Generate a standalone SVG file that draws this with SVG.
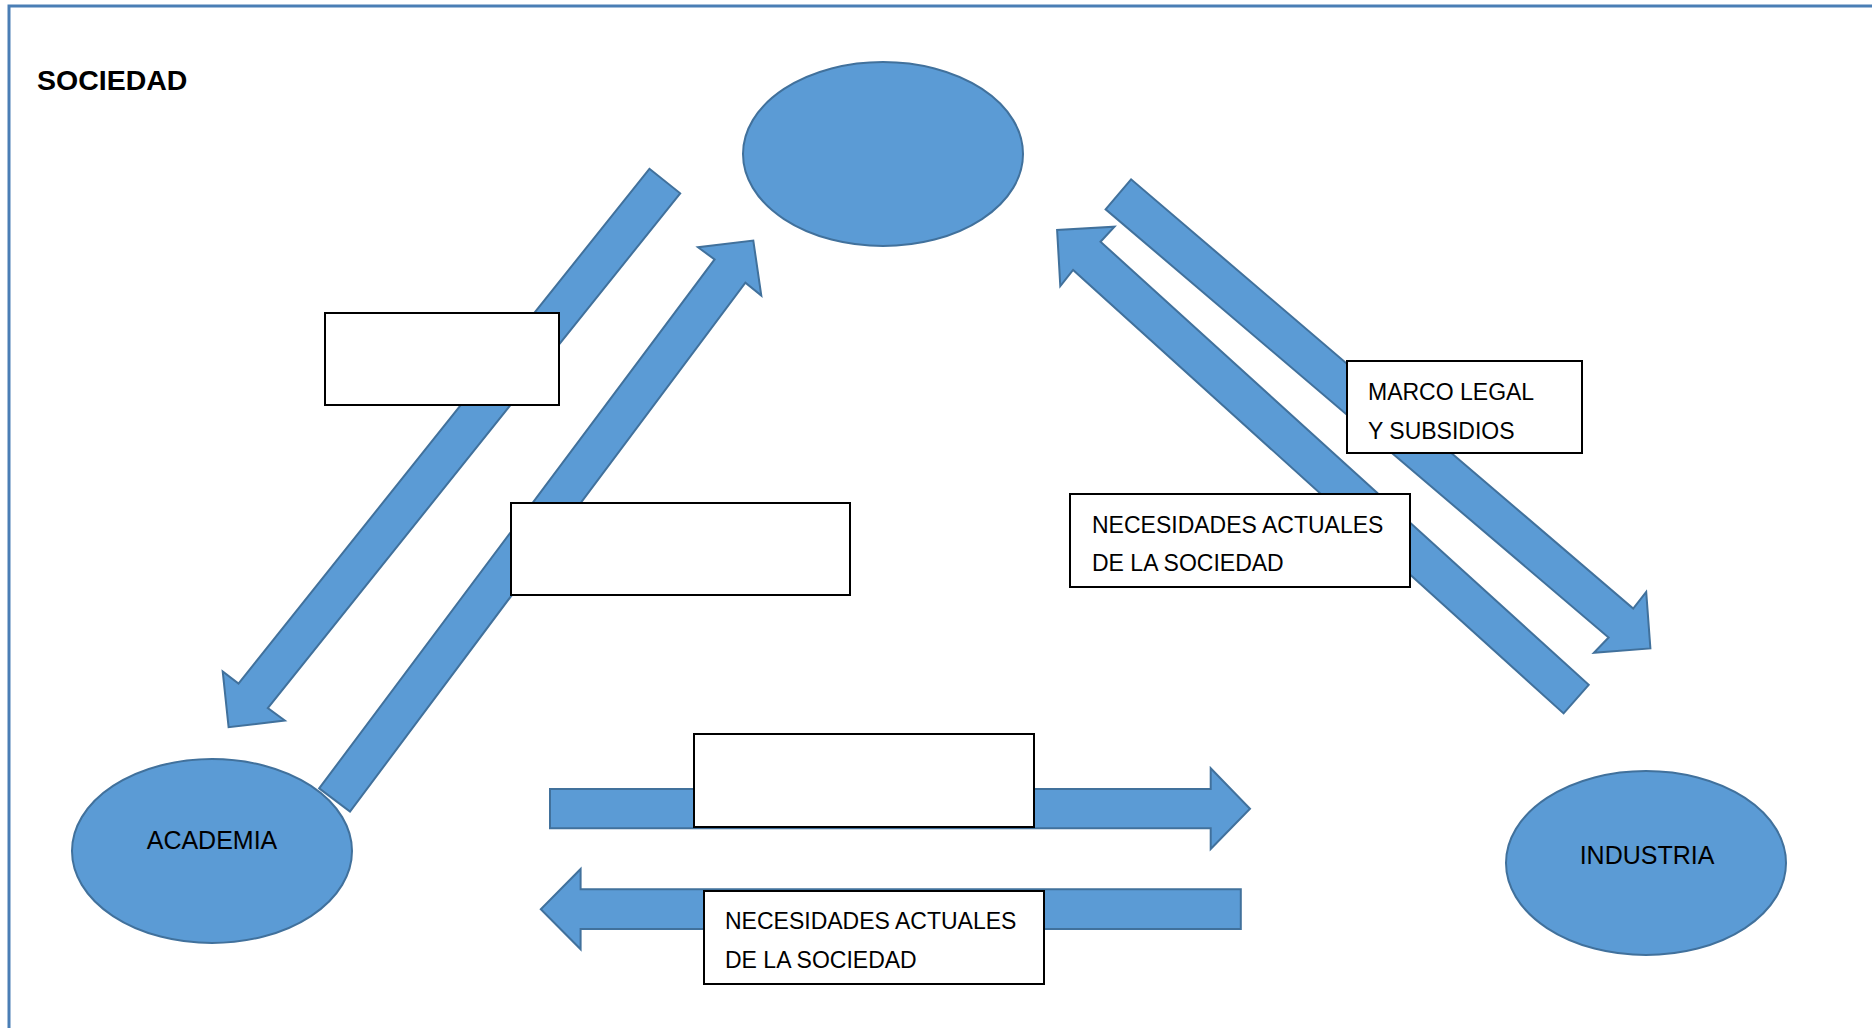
<svg xmlns="http://www.w3.org/2000/svg" width="1872" height="1028" viewBox="0 0 1872 1028">
<style>
.frame{fill:none;stroke:#4A7EB5;stroke-width:3}
.node{fill:#5B9BD5;stroke:#41719C;stroke-width:2}
.arrow{fill:#5B9BD5;stroke:#41719C;stroke-width:2;stroke-linejoin:miter}
.box{fill:#FFFFFF;stroke:#000000;stroke-width:2}
.lbl{font-family:"Liberation Sans",Arial,sans-serif;font-size:23px;fill:#000000}
.nlbl{font-family:"Liberation Sans",Arial,sans-serif;font-size:25px;fill:#000000;text-anchor:middle}
.title{font-family:"Liberation Sans",Arial,sans-serif;font-size:28.5px;font-weight:bold;fill:#000000}
</style>
<rect width="1872" height="1028" fill="#FFFFFF"/>
<rect class="frame" x="9" y="6" width="1900" height="1100"/>
<text class="title" x="37" y="90">SOCIEDAD</text>

<g id="node-sociedad">
  <ellipse class="node" cx="883" cy="154" rx="140" ry="92"/>
</g>
<g id="node-academia">
  <ellipse class="node" cx="212" cy="851" rx="140" ry="92"/>
  <text class="nlbl" x="212" y="849">ACADEMIA</text>
</g>
<g id="node-industria">
  <ellipse class="node" cx="1646" cy="863" rx="140" ry="92"/>
  <text class="nlbl" x="1647" y="864">INDUSTRIA</text>
</g>

<g id="connectors">
  <polygon class="arrow" points="649.4,168.8 680.2,193.3 267.8,708 284.8,720.5 228.6,727.2 222.7,671.4 238.5,683.5"/>
  <polygon class="arrow" points="319.2,788.4 350,811.6 745.4,282.6 761.3,295.5 753.3,240.6 698,247.3 714.6,259.4"/>
  <polygon class="arrow" points="1131.1,179.3 1105.6,209.3 1608.6,637.5 1593.9,652.7 1650.4,648.4 1646.2,592 1633.2,608.5"/>
  <polygon class="arrow" points="1588.7,684.8 1563.6,713.4 1073.1,270 1060.3,286 1057.1,230 1114.5,226.7 1100.5,241.7"/>
  <polygon class="arrow" points="550,789 1210.7,789 1210.7,768.3 1250,808.7 1210.7,849 1210.7,828.3 550,828.3"/>
  <polygon class="arrow" points="1240.8,889.3 580.6,889.3 580.6,869 540.8,909.3 580.6,949.3 580.6,929 1240.8,929"/>
</g>

<g id="box-a">
  <rect class="box" x="325" y="313" width="234" height="92"/>
</g>
<g id="box-b">
  <rect class="box" x="511" y="503" width="339" height="92"/>
</g>
<g id="box-c">
  <rect class="box" x="694" y="734" width="340" height="93"/>
</g>
<g id="box-marco">
  <rect class="box" x="1347" y="361" width="235" height="92"/>
  <text class="lbl" x="1368" y="400">MARCO LEGAL</text>
  <text class="lbl" x="1368" y="439">Y SUBSIDIOS</text>
</g>
<g id="box-necesidades-right">
  <rect class="box" x="1070" y="494" width="340" height="93"/>
  <text class="lbl" x="1092" y="533">NECESIDADES ACTUALES</text>
  <text class="lbl" x="1092" y="571">DE LA SOCIEDAD</text>
</g>
<g id="box-necesidades-bottom">
  <rect class="box" x="704" y="891" width="340" height="93"/>
  <text class="lbl" x="725" y="929">NECESIDADES ACTUALES</text>
  <text class="lbl" x="725" y="968">DE LA SOCIEDAD</text>
</g>
</svg>
